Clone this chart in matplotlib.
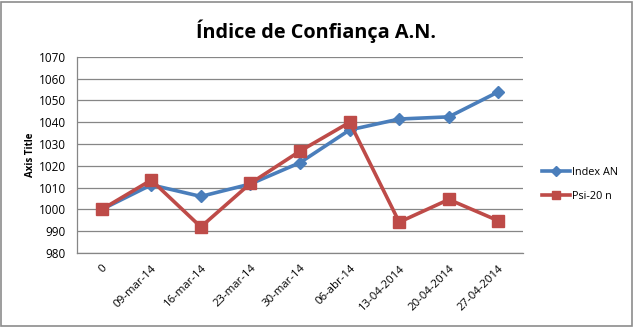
import matplotlib
matplotlib.use("Agg")
import matplotlib.pyplot as plt
from matplotlib.patches import Rectangle

categories = ["0", "09-mar-14", "16-mar-14", "23-mar-14", "30-mar-14",
              "06-abr-14", "13-04-2014", "20-04-2014", "27-04-2014"]
index_an = [1000, 1011.3, 1006.0, 1011.7, 1021.5, 1036.5, 1041.5, 1042.5, 1054.0]
psi20_n = [1000, 1013.5, 992.0, 1012.0, 1026.8, 1040.0, 994.2, 1004.6, 994.8]
y_ticks = [980, 990, 1000, 1010, 1020, 1030, 1040, 1050, 1060, 1070]

plt.rcParams["font.family"] = ["Open Sans", "DejaVu Sans"]

fig = plt.figure(figsize=(6.35, 3.27), dpi=100)
fig.patches.append(Rectangle((0.002, 0.004), 0.994, 0.99, transform=fig.transFigure,
                             fill=False, edgecolor="#8c8c8c", linewidth=1.2))
ax = fig.add_axes([0.121, 0.226, 0.703, 0.600])

x = list(range(len(categories)))
ax.plot(x, index_an, color="#4a7ebb", linewidth=2.6, marker="D", markersize=6,
        label="Index AN", zorder=3)
ax.plot(x, psi20_n, color="#be4b48", linewidth=2.6, marker="s", markersize=8,
        label="Psi-20 n", zorder=3)

ax.set_xlim(-0.5, len(categories) - 0.5)
ax.set_ylim(980, 1070)
ax.set_yticks(y_ticks)
ax.set_xticks(x)
ax.set_xticklabels(categories, rotation=45, ha="right", rotation_mode="anchor",
                   fontsize=8.2)
ax.tick_params(axis="y", labelsize=8.5, length=0, pad=8)
ax.tick_params(axis="x", length=0, pad=7)
ax.yaxis.grid(True, color="#868686", linewidth=0.9)
ax.set_axisbelow(True)
for side in ("top", "right"):
    ax.spines[side].set_visible(False)
for side in ("left", "bottom"):
    ax.spines[side].set_color("#868686")
    ax.spines[side].set_linewidth(0.9)

ax.set_ylabel("Axis Title", fontsize=7, fontweight="bold", labelpad=2)
fig.text(0.497, 0.905, "Índice de Confiança A.N.", ha="center", va="center",
         fontsize=14.3, fontweight="bold")

ax.legend(loc="center left", bbox_to_anchor=(1.02, 0.35), frameon=False,
          fontsize=7.8, handlelength=2.6, handletextpad=0.2, labelspacing=1.2,
          markerscale=0.8)

fig.savefig("out.png", dpi=100)
